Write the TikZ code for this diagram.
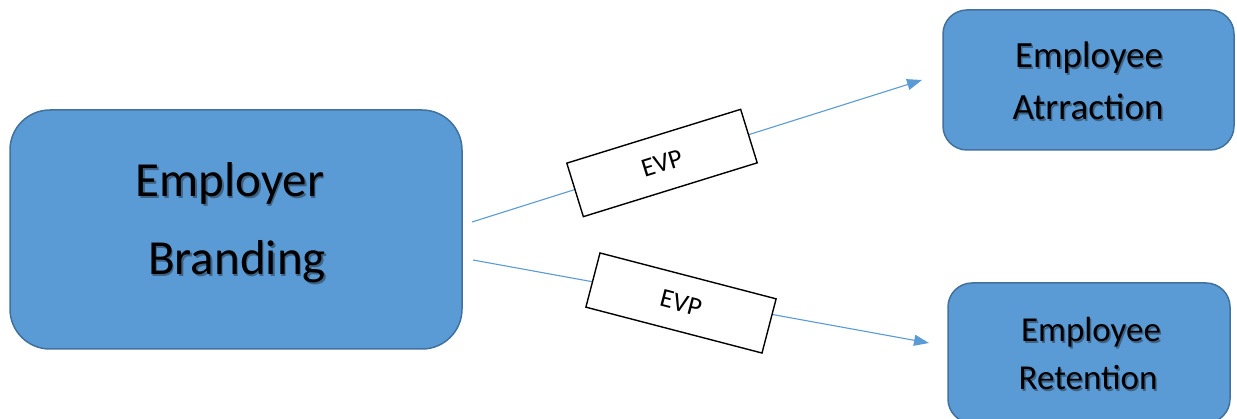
\documentclass[tikz,border=0pt]{standalone}
\usepackage{fontspec}
\setmainfont{Carlito}
\usetikzlibrary{arrows.meta}
\definecolor{boxfill}{HTML}{5B9BD5}
\definecolor{boxline}{HTML}{41719C}
\definecolor{shadowc}{HTML}{3E6385}
\newcommand\shtext[1]{\leavevmode\rlap{\kern1.5pt\raisebox{-1.5pt}{\textcolor{shadowc}{#1}}}#1}
\tikzset{
  bigbox/.style={draw=boxline, fill=boxfill, line width=1.5pt, rounded corners=40pt, inner sep=0pt},
  smallbox/.style={draw=boxline, fill=boxfill, line width=1.5pt, rounded corners=24pt, inner sep=0pt},
  boxtext/.style={anchor=base, inner sep=0pt, text=black},
  evpbox/.style={draw=black, fill=white, line width=1.4pt, minimum width=182pt, minimum height=56pt, inner sep=0pt, font=\fontsize{26.5}{30}\selectfont},
  conn/.style={draw=boxfill, line width=1.1pt, -{Triangle[length=15pt,width=11pt]}}
}
\begin{document}
\begin{tikzpicture}[x=1pt,y=-1pt]
\useasboundingbox (0,0) rectangle (1237,419);
% boxes
\node[bigbox, minimum width=452pt, minimum height=239pt] (eb) at (236,229.5) {};
\node[smallbox, minimum width=291pt, minimum height=140pt] (ea) at (1088.5,80) {};
\node[smallbox, minimum width=282pt, minimum height=140pt] (er) at (1089,353) {};
% texts
\node[boxtext, font=\fontsize{49}{56}\selectfont] (eb1) at (230,197) {\shtext{Employer}};
\node[boxtext, font=\fontsize{49}{56}\selectfont] (eb2) at (237,275) {\shtext{Branding}};
\node[boxtext, font=\fontsize{37}{42}\selectfont] (ea1) at (1089,68) {\shtext{Employee}};
\node[boxtext, font=\fontsize{37}{42}\selectfont] (ea2) at (1088,120) {\shtext{Atrraction}};
\node[boxtext, font=\fontsize{35}{40}\selectfont] (er1) at (1091,342) {\shtext{Employee}};
\node[boxtext, font=\fontsize{35}{40}\selectfont] (er2) at (1088,390) {\shtext{Retention}};
% connectors
\coordinate (s1) at (472,222);
\coordinate (t1) at (922,80);
\coordinate (s2) at (473,260);
\coordinate (t2) at (929,343);
\draw[conn] (s1) -- (t1);
\draw[conn] (s2) -- (t2);
% EVP labels
\node[evpbox, rotate=17.2] (evp1) at (662,163) {EVP};
\node[evpbox, rotate=-14.6] (evp2) at (681,303) {EVP};
\end{tikzpicture}
\end{document}
